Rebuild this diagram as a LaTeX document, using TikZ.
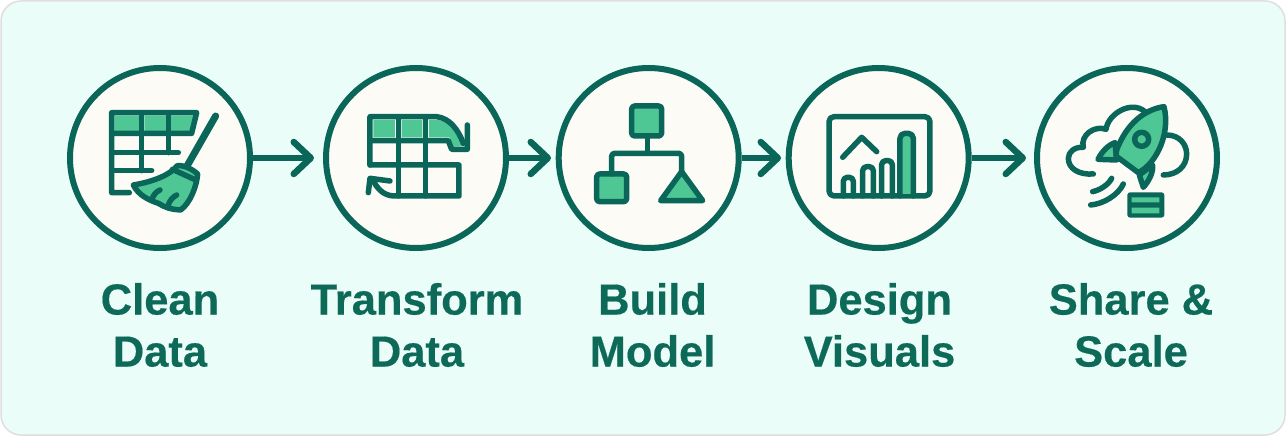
\documentclass[tikz,border=0pt]{standalone}
\usepackage{fontspec}
\setmainfont[BoldFeatures={FakeBold=0.35}]{Liberation Sans}
\usetikzlibrary{arrows.meta}
\definecolor{dk}{HTML}{0B665A}
\definecolor{txt}{HTML}{0E6A58}
\definecolor{gr}{HTML}{4FC795}
\definecolor{bgc}{HTML}{EBFDF8}
\definecolor{cf}{HTML}{FCFBF6}
\definecolor{edgec}{HTML}{E2DEDE}
\tikzset{
  stepcircle/.style={circle,draw=dk,fill=cf,line width=6pt,minimum size=180pt,inner sep=0pt},
  steplabel/.style={text=txt,font=\fontsize{43.5}{52}\selectfont\bfseries,align=center,anchor=center,inner sep=0pt},
  flow/.style={draw=dk,line width=6pt,-{Straight Barb[length=17pt,width=32pt,line width=6.5pt,round]}},
  ink/.style={draw=dk,line width=5.5pt,line cap=round,line join=round},
  inkfill/.style={ink,fill=gr},
  zoomgrid/.style={shift={(#1,50)},x=0.3333pt,y=-0.3333pt},
}
\begin{document}
\begin{tikzpicture}[x=1pt,y=-1pt]
\useasboundingbox (0,0) rectangle (1286,436);
\fill[white] (0,0) rectangle (1286,436);
\draw[edgec,fill=bgc,line width=1.5pt,rounded corners=20pt] (1,1) rectangle (1285,435);
\node[stepcircle] (c1) at (160,158) {};
\node[stepcircle] (c2) at (416,158) {};
\node[stepcircle] (c3) at (648.7,158) {};
\node[stepcircle] (c4) at (878.7,158) {};
\node[stepcircle] (c5) at (1127,158) {};
\coordinate (t1) at (314,158);
\coordinate (t2) at (551,158);
\coordinate (t3) at (781,158);
\coordinate (t4) at (1026,158);
\draw[flow] (c1.east) -- (t1);
\draw[flow] (c2.east) -- (t2);
\draw[flow] (c3.east) -- (t3);
\draw[flow] (c4.east) -- (t4);
\node[steplabel] (l1) at (160,325) {Clean\\Data};
\node[steplabel] (l2) at (417,325) {Transform\\Data};
\node[steplabel] (l3) at (652.5,325) {Build\\Model};
\node[steplabel] (l4) at (879.5,325) {Design\\Visuals};
\node[steplabel] (l5) at (1131,325) {Share \&\\Scale};
% icon 1
\begin{scope}[zoomgrid=50]
\fill[gr] (193,197) rectangle (268,243) (283,197) rectangle (348,243);
\fill[gr] (363,197) -- (436,197) -- (424,243) -- (363,243) -- cycle;
\draw[ink] (238,428) -- (185,428) -- (185,188) -- (440,188) -- (425,250) -- (185,250);
\draw[ink] (185,308) -- (385,308);
\draw[ink] (185,362) -- (305,362);
\draw[ink] (275,188) -- (275,362);
\draw[ink] (355,188) -- (355,308);
\draw[draw=dk,line width=7pt,line cap=round] (497,198) -- (410,350);
\draw[inkfill] (250,405) .. controls (310,395) and (360,375) .. (382,347)
  .. controls (405,345) and (430,360) .. (443,372)
  .. controls (440,410) and (420,460) .. (392,480)
  .. controls (360,478) and (345,472) .. (325,460)
  .. controls (295,450) and (265,435) .. (250,405) -- cycle;
\draw[ink] (367,358) -- (433,388);
\draw[ink] (305,450) .. controls (310,435) and (318,425) .. (330,420);
\draw[ink] (355,465) .. controls (360,450) and (368,442) .. (380,435);
\end{scope}
% icon 2
\begin{scope}[zoomgrid=310]
\fill[gr] (190,210) rectangle (255,262) (275,210) rectangle (337,262);
\fill[gr] (357,210) -- (385,210) .. controls (420,215) and (445,250) .. (460,288) -- (425,290) -- (418,262) -- (357,262) -- cycle;
\draw[ink] (180,345) -- (180,200) -- (380,200) .. controls (420,205) and (445,240) .. (460,280);
\draw[ink] (472,225) -- (472,298) -- (425,298) -- (415,272) -- (180,272);
\draw[ink] (180,345) -- (447,345) -- (447,438) -- (250,438) .. controls (220,436) and (200,415) .. (188,388);
\draw[ink] (175,428) -- (180,385) -- (240,393);
\draw[ink] (265,200) -- (265,438);
\draw[ink] (347,200) -- (347,438);
\end{scope}
% icon 3
\begin{scope}[zoomgrid=550]
\draw[inkfill,rounded corners=3pt] (245,168) rectangle (335,258);
\draw[inkfill,rounded corners=3pt] (140,372) rectangle (230,455);
\draw[ink] (292,258) -- (292,310);
\draw[ink,rounded corners=3pt] (185,372) -- (185,310) -- (395,310) -- (395,365);
\draw[inkfill] (395,365) -- (458,452) -- (332,452) -- cycle;
\end{scope}
% icon 4
\begin{scope}[zoomgrid=780]
\draw[ink,rounded corners=5pt] (147,200) rectangle (450,438);
\draw[ink] (188,322) -- (245,262) -- (290,305);
\draw[ink,rounded corners=4pt] (190,438) -- (190,382) -- (220,382) -- (220,438);
\draw[ink,rounded corners=4pt] (248,438) -- (248,350) -- (280,350) -- (280,438);
\draw[ink,rounded corners=4pt] (305,438) -- (305,332) -- (337,332) -- (337,438);
\fill[gr] (362,255) rectangle (398,432);
\draw[ink,rounded corners=5pt] (360,438) -- (360,250) -- (400,250) -- (400,438);
\end{scope}
% icon 5
\begin{scope}[zoomgrid=1020]
\draw[ink] (220,372) .. controls (175,375) and (145,355) .. (145,325)
  .. controls (145,305) and (165,290) .. (190,292)
  .. controls (180,255) and (225,225) .. (258,238)
  .. controls (265,190) and (335,150) .. (375,185);
\draw[ink] (440,255) .. controls (480,255) and (500,285) .. (500,312)
  .. controls (500,350) and (470,375) .. (430,375);
\draw[inkfill] (285,278) .. controls (265,285) and (245,305) .. (234,328) -- (290,330) -- cycle;
\draw[inkfill] (398,345) .. controls (400,370) and (385,395) .. (370,412) -- (358,375) -- cycle;
\draw[inkfill] (432,170) .. controls (375,178) and (320,220) .. (290,300)
  -- (288,318) -- (355,368)
  .. controls (410,340) and (452,250) .. (432,170) -- cycle;
\draw[ink] (365,268) circle[radius=7pt];
\draw[ink] (218,425) .. controls (240,420) and (265,405) .. (275,385);
\draw[ink] (212,465) .. controls (250,462) and (295,435) .. (310,402);
\draw[draw=dk,fill=dk,line width=2pt,rounded corners=2pt] (325,430) rectangle (430,500);
\fill[gr] (335,442) rectangle (418,457) (335,473) rectangle (418,490);
\end{scope}
\end{tikzpicture}
\end{document}
